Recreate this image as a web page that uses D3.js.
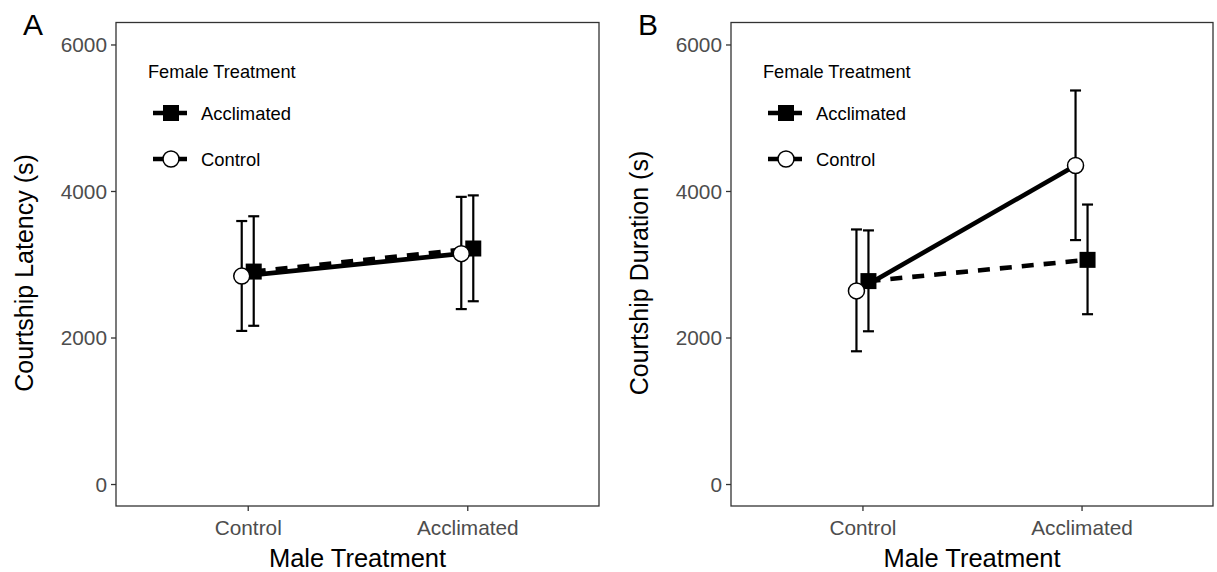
<!DOCTYPE html>
<html>
<head>
<meta charset="utf-8">
<script src="https://cdn.jsdelivr.net/npm/d3@7"></script>
<style>
  body { margin: 0; background: #fff; }
  svg { font-family: "Liberation Sans", Arial, Helvetica, sans-serif; }
</style>
</head>
<body>
<svg id="svg"></svg>
<script>
// x categories and groups
const maleTreatments = ["Control", "Acclimated"];
const femaleTreatments = ["Acclimated", "Control"];
const yTicks = [0, 2000, 4000, 6000];

// Panel A: courtship latency (s)
const latencyAcclimated = [2900, 3215];
const latencyAcclimatedLo = [2160, 2495];
const latencyAcclimatedHi = [3655, 3940];
const latencyControl = [2838, 3145];
const latencyControlLo = [2090, 2388];
const latencyControlHi = [3590, 3920];

// Panel B: courtship duration (s)
const durationAcclimated = [2770, 3060];
const durationAcclimatedLo = [2085, 2318];
const durationAcclimatedHi = [3462, 3815];
const durationControl = [2636, 4348];
const durationControlLo = [1812, 3330];
const durationControlHi = [3475, 5372];

const width = 1217;
const height = 572;

const svg = d3.select('#svg')
  .attr('width', width)
  .attr('height', height);

function buildRows(means, lo, hi, group) {
  return maleTreatments.map((m, i) => ({ male: m, group: group, mean: means[i], lo: lo[i], hi: hi[i] }));
}

const panels = [
  {
    letter: 'A', left: 116, right: 599, yTitle: 'Courtship Latency (s)',
    rows: {
      Acclimated: buildRows(latencyAcclimated, latencyAcclimatedLo, latencyAcclimatedHi, 'Acclimated'),
      Control: buildRows(latencyControl, latencyControlLo, latencyControlHi, 'Control')
    }
  },
  {
    letter: 'B', left: 731, right: 1213, yTitle: 'Courtship Duration (s)',
    rows: {
      Acclimated: buildRows(durationAcclimated, durationAcclimatedLo, durationAcclimatedHi, 'Acclimated'),
      Control: buildRows(durationControl, durationControlLo, durationControlHi, 'Control')
    }
  }
];

const plotTop = 22.5;
const plotBottom = 506;
const dodge = { Acclimated: 6, Control: -6 };
const dash = { Acclimated: '12,10', Control: null };

panels.forEach(p => {
  const g = svg.append('g');

  const yScale = d3.scaleLinear().domain([-300, 6300]).range([plotBottom, plotTop]);
  const xScale = d3.scalePoint().domain(maleTreatments).range([p.left, p.right]).padding(0.6);

  // y axis
  const yAxis = g.append('g')
    .attr('transform', `translate(${p.left},0)`)
    .call(d3.axisLeft(yScale).tickValues(yTicks).tickSize(5).tickPadding(4).tickFormat(d3.format('d')));
  yAxis.attr('font-family', null).attr('font-size', null);
  yAxis.select('.domain').remove();
  yAxis.selectAll('line').attr('stroke', '#333').attr('stroke-width', 1.3);
  yAxis.selectAll('text').attr('fill', '#4d4d4d').attr('font-size', '20.8px').attr('dy', '0.35em');

  // x axis
  const xAxis = g.append('g')
    .attr('transform', `translate(0,${plotBottom})`)
    .call(d3.axisBottom(xScale).tickSize(5));
  xAxis.attr('font-family', null).attr('font-size', null);
  xAxis.select('.domain').remove();
  xAxis.selectAll('line').attr('stroke', '#333').attr('stroke-width', 1.3);
  xAxis.selectAll('text').attr('fill', '#4d4d4d').attr('font-size', '20.8px').attr('y', 29).attr('dy', null);

  // panel border
  g.append('rect')
    .attr('x', p.left).attr('y', plotTop)
    .attr('width', p.right - p.left).attr('height', plotBottom - plotTop)
    .attr('fill', 'none').attr('stroke', '#333').attr('stroke-width', 1.3);

  const line = d3.line()
    .x(d => xScale(d.male) + dodge[d.group])
    .y(d => yScale(d.mean));

  // lines
  femaleTreatments.forEach(f => {
    g.append('path')
      .datum(p.rows[f])
      .attr('d', line)
      .attr('fill', 'none')
      .attr('stroke', '#000')
      .attr('stroke-width', 4.6)
      .attr('stroke-dasharray', dash[f]);
  });

  // error bars
  femaleTreatments.forEach(f => {
    const eb = g.append('g').selectAll('g').data(p.rows[f]).enter().append('g');
    eb.append('line')
      .attr('x1', d => xScale(d.male) + dodge[d.group])
      .attr('x2', d => xScale(d.male) + dodge[d.group])
      .attr('y1', d => yScale(d.lo))
      .attr('y2', d => yScale(d.hi))
      .attr('stroke', '#000').attr('stroke-width', 2.2);
    ['lo', 'hi'].forEach(k => {
      eb.append('line')
        .attr('x1', d => xScale(d.male) + dodge[d.group] - 5.5)
        .attr('x2', d => xScale(d.male) + dodge[d.group] + 5.5)
        .attr('y1', d => yScale(d[k]))
        .attr('y2', d => yScale(d[k]))
        .attr('stroke', '#000').attr('stroke-width', 2.2);
    });
  });

  // points: squares (Acclimated) then circles (Control)
  g.selectAll('rect.pt')
    .data(p.rows.Acclimated)
    .enter().append('rect')
    .attr('class', 'pt')
    .attr('x', d => xScale(d.male) + dodge[d.group] - 8)
    .attr('y', d => yScale(d.mean) - 8)
    .attr('width', 16).attr('height', 16)
    .attr('fill', '#000');

  g.selectAll('circle.pt')
    .data(p.rows.Control)
    .enter().append('circle')
    .attr('class', 'pt')
    .attr('cx', d => xScale(d.male) + dodge[d.group])
    .attr('cy', d => yScale(d.mean))
    .attr('r', 8)
    .attr('fill', '#fff')
    .attr('stroke', '#000').attr('stroke-width', 1.5);

  // legend
  const lx = p.left + 32;
  g.append('text')
    .attr('x', lx).attr('y', 78)
    .attr('font-size', '18.2px')
    .text('Female Treatment');
  femaleTreatments.forEach((f, i) => {
    const ky = 113 + i * 46;
    g.append('line')
      .attr('x1', lx + 5).attr('x2', lx + 39)
      .attr('y1', ky).attr('y2', ky)
      .attr('stroke', '#000').attr('stroke-width', 4.6);
    if (f === 'Acclimated') {
      g.append('rect')
        .attr('x', lx + 23 - 8).attr('y', ky - 8)
        .attr('width', 16).attr('height', 16).attr('fill', '#000');
    } else {
      g.append('circle')
        .attr('cx', lx + 23).attr('cy', ky).attr('r', 8)
        .attr('fill', '#fff').attr('stroke', '#000').attr('stroke-width', 1.5);
    }
    g.append('text')
      .attr('x', lx + 53).attr('y', ky + 7)
      .attr('font-size', '18.4px')
      .text(f);
  });

  // axis titles
  g.append('text')
    .attr('transform', `translate(${p.left - 83},273) rotate(-90)`)
    .attr('text-anchor', 'middle')
    .attr('font-size', '25px')
    .text(p.yTitle);

  g.append('text')
    .attr('x', (p.left + p.right) / 2)
    .attr('y', 567)
    .attr('text-anchor', 'middle')
    .attr('font-size', '25.5px')
    .text('Male Treatment');

  // panel letter
  g.append('text')
    .attr('x', p.left - 93)
    .attr('y', 35)
    .attr('font-size', '30px')
    .text(p.letter);
});
</script>
</body>
</html>
